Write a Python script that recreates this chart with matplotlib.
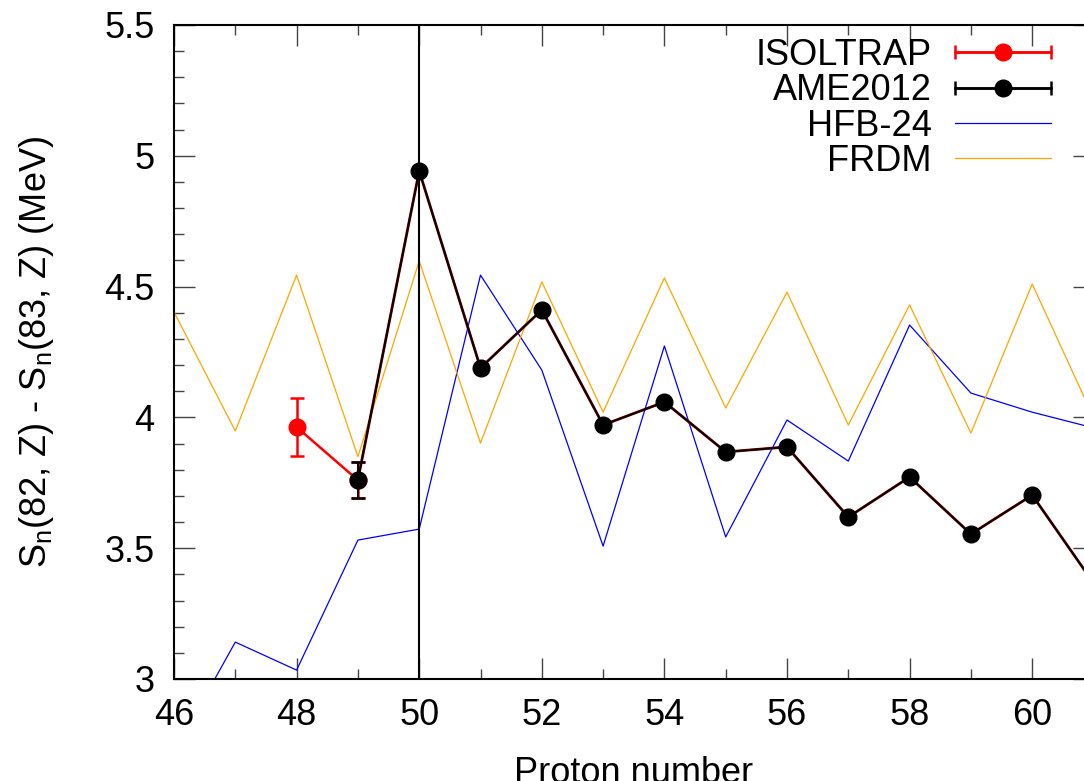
import numpy as np
import matplotlib
matplotlib.use('Agg')
import matplotlib.pyplot as plt
from matplotlib.ticker import MultipleLocator
from matplotlib.container import ErrorbarContainer
from matplotlib.legend_handler import HandlerErrorbar

plt.rcParams['font.family'] = ['Liberation Sans', 'DejaVu Sans']

# Данные
z_isol = [48, 49]
sn_isol = [3.963, 3.76]
err_isol = [0.11, 0.07]

z_ame = [49, 50, 51, 52, 53, 54, 55, 56, 57, 58, 59, 60, 61]
sn_ame = [3.761, 4.942, 4.189, 4.411, 3.971, 4.059, 3.868, 3.887, 3.619, 3.772, 3.554, 3.703, 3.367]
err_ame = [0.07, 0.01, 0.01, 0.01, 0.01, 0.01, 0.01, 0.01, 0.01, 0.01, 0.01, 0.01, 0.01]

z_th = [46, 47, 48, 49, 50, 51, 52, 53, 54, 55, 56, 57, 58, 59, 60, 61]
sn_hfb = [2.72, 3.141, 3.034, 3.531, 3.573, 4.544, 4.181, 3.508, 4.273, 3.543, 3.99, 3.833, 4.353, 4.093, 4.02, 3.96]
sn_frdm = [4.403, 3.948, 4.544, 3.85, 4.598, 3.902, 4.518, 4.02, 4.533, 4.036, 4.479, 3.971, 4.43, 3.94, 4.51, 4.0]

fs = 26
fig = plt.figure(figsize=(10.84, 7.81), dpi=100)
ax = fig.add_axes([174 / 1084, 1 - 679 / 781, 919.5 / 1084, 654 / 781])

ax.plot(z_th, sn_hfb, color='blue', linewidth=0.9, zorder=2)
ax.plot(z_th, sn_frdm, color='orange', linewidth=0.9, zorder=2)
ax.axvline(50, color='black', linewidth=1.5, zorder=3)

ax.errorbar(z_isol, sn_isol, yerr=err_isol, color='red', linewidth=1.8, marker='o',
            markersize=12, capsize=5, capthick=1.8, zorder=4)
ax.plot(z_ame, sn_ame, color='#b00000', linewidth=2.0, zorder=5)
ax.errorbar(z_ame, sn_ame, yerr=err_ame, color='black', linewidth=1.4, marker='o',
            markersize=12, capsize=5, capthick=1.8, zorder=6)

ax.set_xlim(46, 61)
ax.set_ylim(3, 5.5)
ax.xaxis.set_major_locator(MultipleLocator(2))
ax.xaxis.set_minor_locator(MultipleLocator(1))
ax.yaxis.set_minor_locator(MultipleLocator(0.1))
ax.set_yticks([3, 3.5, 4, 4.5, 5, 5.5])
ax.set_yticklabels(['3', '3.5', '4', '4.5', '5', '5.5'])
ax.tick_params(which='both', direction='in', top=True, right=True, labelsize=fs,
               color='#444444', width=1)
ax.tick_params(which='major', length=15, pad=14)
ax.tick_params(which='minor', length=7.5)
for s in ax.spines.values():
    s.set_linewidth(1.5)

ax.set_xlabel('Proton number', fontsize=fs, labelpad=16)
ax.set_ylabel(r'S$_\mathregular{n}$(82, Z) - S$_\mathregular{n}$(83, Z) (MeV)', fontsize=fs, labelpad=35)

# Легенда (точки вне области, только ради маркеров)
h_isol = ax.errorbar([100], [100], xerr=[1], color='red', marker='o', markersize=12,
                     linewidth=1.8, capsize=5, capthick=1.8)
h_ame = ax.errorbar([100], [100], xerr=[1], color='black', marker='o', markersize=12,
                    linewidth=1.8, capsize=5, capthick=1.8)
h_hfb, = ax.plot([], [], color='blue', linewidth=0.9)
h_frdm, = ax.plot([], [], color='orange', linewidth=0.9)
ax.legend([h_isol, h_ame, h_hfb, h_frdm], ['ISOLTRAP', 'AME2012', 'HFB-24', 'FRDM'],
          loc='upper right', bbox_to_anchor=(1051 / 1084, 1 - 38 / 781),
          bbox_transform=fig.transFigure, frameon=False, markerfirst=False,
          fontsize=fs, handlelength=2.67, labelspacing=0.01, handletextpad=0.64,
          borderpad=0, borderaxespad=0,
          handler_map={ErrorbarContainer: HandlerErrorbar(xerr_size=1.33)})

fig.savefig('out.png', dpi=100)
